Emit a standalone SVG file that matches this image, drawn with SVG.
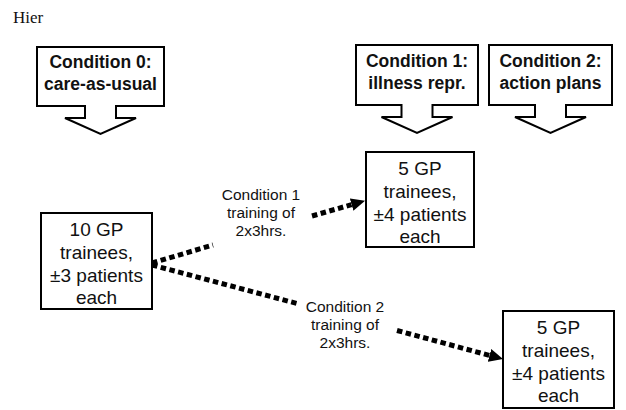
<svg xmlns="http://www.w3.org/2000/svg" width="626" height="410" viewBox="0 0 626 410">
<style>
.bg{fill:#fff}
.callout{fill:#fff;stroke:#000;stroke-width:2;stroke-linejoin:miter}
.box{fill:#fff;stroke:#000;stroke-width:2}
.ct{font-family:"Liberation Sans",Arial,sans-serif;font-weight:bold;font-size:17.5px;fill:#111;text-anchor:middle}
.nt{font-family:"Liberation Sans",Arial,sans-serif;font-size:19px;fill:#111;text-anchor:middle}
.lt{font-family:"Liberation Sans",Arial,sans-serif;font-size:15.5px;fill:#111;text-anchor:middle}
.hier{font-family:"Liberation Serif","Times New Roman",serif;font-size:17px;fill:#111}
.conn{fill:none;stroke:#000;stroke-width:5;stroke-dasharray:5.5 3.5}
</style>
<defs>
<marker id="ah" viewBox="0 0 14 13" refX="0" refY="6.5" markerWidth="14" markerHeight="13" markerUnits="userSpaceOnUse" orient="auto">
<path d="M0 0 L14 6.5 L0 13 Z" fill="#000"/>
</marker>
</defs>
<rect class="bg" x="0" y="0" width="626" height="410"/>
<text class="hier" x="13" y="23">Hier</text>

<g id="cond0">
<path class="callout" d="M37 47 H164 V106 H116 V118 H136 L100.5 134 L65 118 H85 V106 H37 Z"/>
<text class="ct" x="100.5" y="68">Condition 0:</text>
<text class="ct" x="100.5" y="90">care-as-usual</text>
</g>
<g id="cond1">
<path class="callout" d="M356 45 H478 V105 H432.5 V117 H452.5 L417 133 L381.5 117 H401.5 V105 H356 Z"/>
<text class="ct" x="417" y="67">Condition 1:</text>
<text class="ct" x="417" y="89">illness repr.</text>
</g>
<g id="cond2">
<path class="callout" d="M489 45 H612 V105 H566 V117 H586 L550.5 133 L515 117 H535 V105 H489 Z"/>
<text class="ct" x="550.5" y="67">Condition 2:</text>
<text class="ct" x="550.5" y="89">action plans</text>
</g>

<g id="connectors">
<path class="conn" d="M152 263 L213 245 M312 216 L351.6 204.6" marker-end="url(#ah)"/>
<path class="conn" d="M152 265 L297 303.5 M397 330.5 L489.5 355.4" marker-end="url(#ah)"/>
<text class="lt" x="261" y="200">Condition 1</text>
<text class="lt" x="261" y="218">training of</text>
<text class="lt" x="261" y="236">2x3hrs.</text>
<text class="lt" x="345" y="312">Condition 2</text>
<text class="lt" x="345" y="330">training of</text>
<text class="lt" x="345" y="348">2x3hrs.</text>
</g>

<g id="gpA">
<rect class="box" x="41" y="213" width="111" height="96"/>
<text class="nt" x="96.5" y="236">10 GP</text>
<text class="nt" x="96.5" y="259">trainees,</text>
<text class="nt" x="96.5" y="282">±3 patients</text>
<text class="nt" x="96.5" y="304">each</text>
</g>
<g id="gpB">
<rect class="box" x="366" y="152" width="108" height="95"/>
<text class="nt" x="420" y="175">5 GP</text>
<text class="nt" x="420" y="198">trainees,</text>
<text class="nt" x="420" y="221">±4 patients</text>
<text class="nt" x="420" y="243">each</text>
</g>
<g id="gpC">
<rect class="box" x="503" y="311" width="111" height="97"/>
<text class="nt" x="558.5" y="334">5 GP</text>
<text class="nt" x="558.5" y="357">trainees,</text>
<text class="nt" x="558.5" y="380">±4 patients</text>
<text class="nt" x="558.5" y="402">each</text>
</g>
</svg>
